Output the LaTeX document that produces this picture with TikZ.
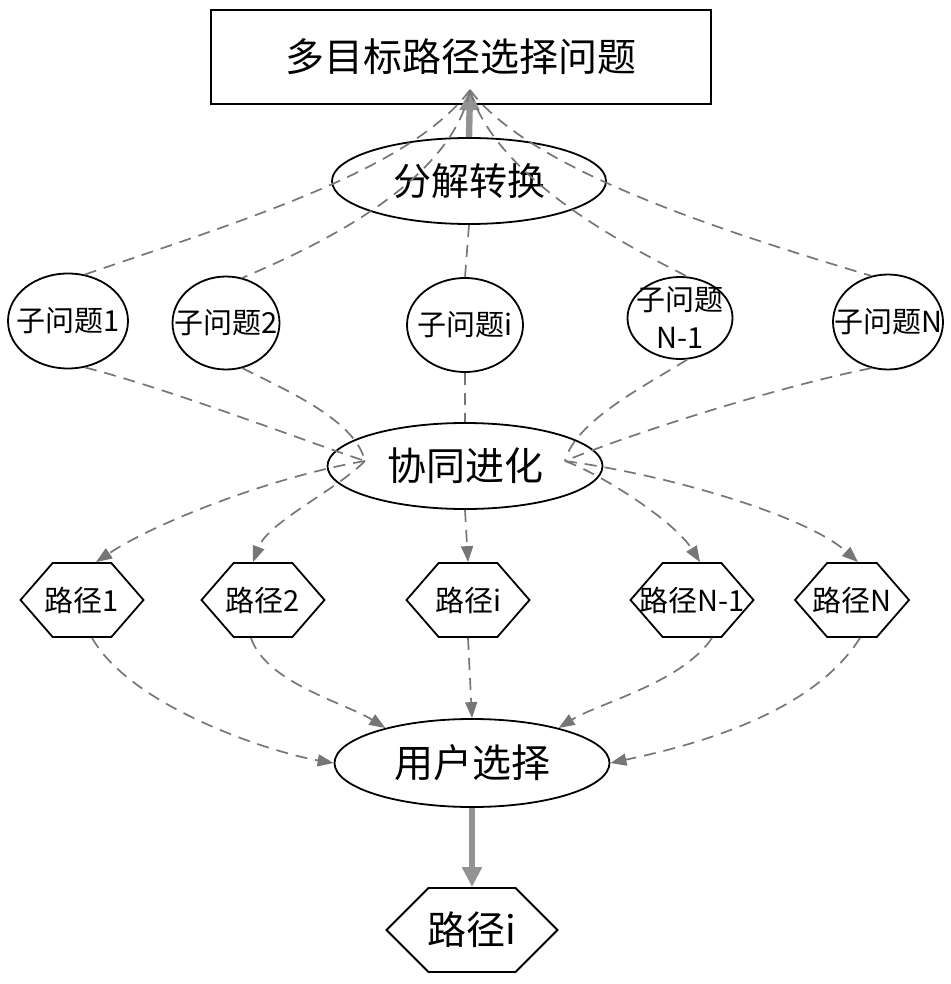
\documentclass[tikz,border=0pt]{standalone}
\usepackage{fontspec}
\newfontfamily\cjk{Noto Sans CJK SC}
\usepackage{tikz}
\usetikzlibrary{shapes.geometric,shapes.symbols,arrows.meta}

\definecolor{linegray}{RGB}{118,118,118}

\tikzset{
  box/.style={draw, line width=0.9pt, inner sep=0pt},
  oval/.style={ellipse, draw, line width=0.9pt, inner xsep=-22pt, inner ysep=-6pt},
  hexa/.style={signal, signal to=west and east, draw, line width=0.9pt,
    inner xsep=-22pt, inner ysep=0pt, signal pointer angle=98},
  dashlink/.style={linegray, line width=0.85pt, dash pattern=on 6pt off 4pt},
  dasharrow/.style={dashlink, -{Triangle[length=8pt,width=6pt]}},
  bigarrow/.style={gray!85, line width=3.2pt, -{Triangle[length=10pt,width=9.5pt]}},
  fbig/.style={font=\cjk\fontsize{19.5}{22}\selectfont},
  fmid/.style={font=\cjk\fontsize{19}{22}\selectfont},
  fsmall/.style={font=\cjk\fontsize{14.5}{19}\selectfont},
}

\begin{document}
\begin{tikzpicture}[x=0.5pt,y=-0.5pt]
  \useasboundingbox (0,0) rectangle (950,984);

  % problem and decomposition
  \node[box, fbig, minimum width=250pt, minimum height=47pt] (prob) at (461,57) {多目标路径选择问题};
  \coordinate (apex) at (470,90);
  \node[oval, fmid, minimum width=137pt, minimum height=43pt] (dec) at (469,181) {分解转换};

  % sub-problems
  \node[oval, fsmall, minimum width=60pt, minimum height=47.5pt] (sub1) at (68,321) {子问题1};
  \node[oval, fsmall, minimum width=53.5pt, minimum height=46.5pt] (sub2) at (226,323) {子问题2};
  \node[oval, fsmall, minimum width=58pt, minimum height=47pt] (subi) at (465,325) {子问题i};
  \node[oval, fsmall, minimum width=52.5pt, minimum height=41pt, align=center] (subn1) at (680,318) {子问题\\N-1};
  \node[oval, fsmall, minimum width=55pt, minimum height=47.5pt] (subn) at (888,322) {子问题N};

  % co-evolution
  \node[oval, fbig, minimum width=137.5pt, minimum height=43pt] (coev) at (465,466) {协同进化};
  \coordinate (hubL) at (365,461);
  \coordinate (hubR) at (565,461);

  % paths
  \node[hexa, fsmall, minimum width=61.5pt, minimum height=37pt] (path1) at (82,600) {路径1};
  \node[hexa, fsmall, minimum width=61.5pt, minimum height=37pt] (path2) at (263,600) {路径2};
  \node[hexa, fsmall, minimum width=61.5pt, minimum height=37pt] (pathi) at (468,600) {路径i};
  \node[hexa, fsmall, minimum width=61.5pt, minimum height=37pt] (pathn1) at (692,600) {路径N-1};
  \node[hexa, fsmall, minimum width=57pt, minimum height=37pt] (pathn) at (852,600) {路径N};

  % user choice and result
  \node[oval, fbig, minimum width=137.5pt, minimum height=44pt] (user) at (472,763) {用户选择};
  \node[hexa, fbig, minimum width=85.5pt, minimum height=42pt, signal pointer angle=90] (final) at (472,930) {路径i};

  \draw[bigarrow] (dec.north) -- (apex);
  \draw[dashlink] (apex) .. controls +(-60,80) and +(160,-55) .. (sub1.70);
  \draw[dashlink] (apex) .. controls +(-20,95) and +(70,-30) .. (sub2.70);
  \draw[dashlink] (dec.south) -- (subi.north);
  \draw[dashlink] (apex) .. controls +(25,85) and +(-70,-35) .. (subn1.80);
  \draw[dashlink] (apex) .. controls +(60,80) and +(-150,-45) .. (subn.110);

  \draw[dashlink] (sub1.-70) .. controls +(80,20) and +(-60,-20) .. (hubL);
  \draw[dashlink] (sub2.-70) .. controls +(50,25) and +(-10,-40) .. (hubL);
  \draw[dashlink] (subi.south) -- (coev.north);
  \draw[dashlink] (subn1.-80) .. controls +(-40,25) and +(10,-40) .. (hubR);
  \draw[dashlink] (subn.-110) .. controls +(-100,20) and +(60,-25) .. (hubR);

  \draw[dasharrow] (hubL) .. controls +(-90,15) and +(60,-40) .. ([xshift=7pt]path1.north);
  \draw[dasharrow] (hubL) .. controls +(-30,30) and +(15,-40) .. ([xshift=-5pt]path2.north);
  \draw[dasharrow] (coev.south) -- (pathi.north);
  \draw[dasharrow] (hubR) .. controls +(40,15) and +(-25,-40) .. ([xshift=4pt]pathn1.north);
  \draw[dasharrow] (hubR) .. controls +(110,15) and +(-50,-45) .. ([xshift=3pt]pathn.north);

  \draw[dasharrow] ([xshift=5pt]path1.south) .. controls +(40,70) and +(-60,-10) .. (user.west);
  \draw[dasharrow] ([xshift=-6pt]path2.south) .. controls +(15,45) and +(-40,-25) .. (user.158);
  \draw[dasharrow] (pathi.south) -- (user.north);
  \draw[dasharrow] ([xshift=10pt]pathn1.south) .. controls +(-30,45) and +(40,-25) .. (user.22);
  \draw[dasharrow] ([xshift=4pt]pathn.south) .. controls +(-50,80) and +(70,-15) .. (user.east);

  \draw[bigarrow] (user.south) -- (final.north);
\end{tikzpicture}
\end{document}
